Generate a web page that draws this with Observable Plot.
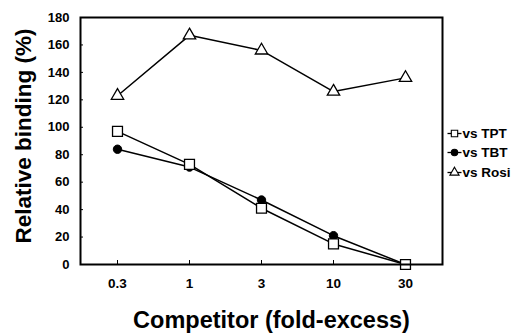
<!DOCTYPE html>
<html>
<head>
<meta charset="utf-8">
<script src="https://cdn.jsdelivr.net/npm/d3@7"></script>
<script src="https://cdn.jsdelivr.net/npm/@observablehq/plot@0.6"></script>
<style>
  html, body { margin: 0; padding: 0; background: #fff; }
  svg { display: block; font-family: "Liberation Sans", Arial, sans-serif; }
</style>
</head>
<body>
<div id="chart"></div>
<script>
const categories = ["0.3", "1", "3", "10", "30"];
const seriesNames = ["vs TPT", "vs TBT", "vs Rosi"];
const tptValues = [97, 73, 41, 15, 0];
const tbtValues = [84, 71, 47, 21, 0];
const rosiValues = [123, 167, 156, 126, 136];
const yTicks = [0, 20, 40, 60, 80, 100, 120, 140, 160, 180];
const xTitle = "Competitor (fold-excess)";
const yTitle = "Relative binding (%)";

const toRows = (name, vals) => categories.map((c, i) => ({series: name, x: c, y: vals[i]}));
const tpt = toRows(seriesNames[0], tptValues);
const tbt = toRows(seriesNames[1], tbtValues);
const rosi = toRows(seriesNames[2], rosiValues);

const lineSymbol = {draw(ctx) { ctx.moveTo(-7, 0); ctx.lineTo(7, 0); }};
const legendSymbols = ["square", "circle", "triangle"];
const legendFill = ["white", "black", "white"];
const legendR = [3.6, 3.2, 3.4];
const legendDy = [-7.5, 11.5, 31.5];

const legendMarks = seriesNames.flatMap((name, i) => [
  Plot.dot([name], {frameAnchor: "right", dx: 12, dy: legendDy[i], symbol: lineSymbol, r: 1, stroke: "black", strokeWidth: 1.3}),
  Plot.dot([name], {frameAnchor: "right", dx: 12, dy: legendDy[i], symbol: legendSymbols[i], r: legendR[i], stroke: "black", fill: legendFill[i], strokeWidth: 1.1}),
  Plot.text([name], {frameAnchor: "right", dx: 20, dy: legendDy[i], text: d => d, textAnchor: "start", fontSize: 13.5, fontWeight: "bold", fill: "black"})
]);

const chart = Plot.plot({
  width: 522,
  height: 333,
  marginLeft: 80,
  marginRight: 80,
  marginTop: 17,
  marginBottom: 69,
  style: {fontFamily: "'Liberation Sans', Arial, sans-serif", color: "black", background: "white"},
  x: {type: "point", domain: categories, padding: 0.5},
  y: {domain: [0, 180]},
  marks: [
    Plot.axisY({ticks: yTicks, tickSize: -3, tickPadding: 14, fontSize: 13, fontWeight: "bold", label: null}),
    Plot.axisX({tickSize: -4, tickPadding: 18, fontSize: 13.5, fontWeight: "bold", label: null}),
    Plot.line(rosi, {x: "x", y: "y", stroke: "black", strokeWidth: 1.5}),
    Plot.line(tpt, {x: "x", y: "y", stroke: "black", strokeWidth: 1.5}),
    Plot.line(tbt, {x: "x", y: "y", stroke: "black", strokeWidth: 1.5}),
    Plot.dot(rosi, {x: "x", y: "y", symbol: "triangle", r: 4.6, fill: "white", stroke: "black", strokeWidth: 1.3}),
    Plot.dot(tbt, {x: "x", y: "y", symbol: "circle", r: 4.2, fill: "black", stroke: "black", strokeWidth: 1}),
    Plot.dot(tpt, {x: "x", y: "y", symbol: "square", r: 5.6, fill: "white", stroke: "black", strokeWidth: 1.3}),
    Plot.frame({stroke: "black", strokeWidth: 2}),
    ...legendMarks,
    Plot.text([xTitle], {frameAnchor: "bottom", lineAnchor: "middle", textAnchor: "middle", dx: 10, dy: 56, text: d => d, fontSize: 23.5, fontWeight: "bold", fill: "black"}),
    Plot.text([yTitle], {frameAnchor: "left", lineAnchor: "middle", textAnchor: "middle", dx: -57, dy: -5, rotate: -90, text: d => d, fontSize: 22.5, fontWeight: "bold", fill: "black"})
  ]
});
document.getElementById("chart").appendChild(chart);
</script>
</body>
</html>
